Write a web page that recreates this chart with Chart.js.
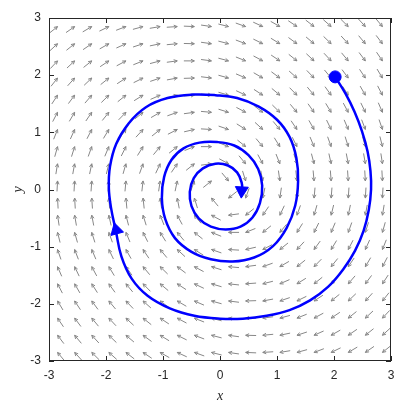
<!DOCTYPE html>
<html>
<head>
<meta charset="utf-8">
<script src="https://cdn.jsdelivr.net/npm/chart.js@4.4.1/dist/chart.umd.min.js"></script>
<style>
    html, body {margin: 0; padding: 0; background: #fff;}
</style>
</head>
<body>
<canvas id="chart1" width="416" height="412"></canvas>
<script>
//--------------------------------------DATOS
var axisTicks = [-3, -2, -1, 0, 1, 2, 3];

// puntas de las flechas del campo (rejilla)
var fieldGrid = [-2.85, -2.55, -2.25, -1.95, -1.65, -1.35, -1.05, -0.75, -0.45, -0.15,
    0.15, 0.45, 0.75, 1.05, 1.35, 1.65, 1.95, 2.25, 2.55, 2.85];

// sistema x' = a*x + b*y , y' = c*x + d*y
var fieldRowX = [0, 1];
var fieldRowY = [-1, -0.2];

// trayectoria
var pathX = [2.02, 2.20, 2.36, 2.49, 2.59, 2.64, 2.65, 2.61, 2.52, 2.37, 2.16, 1.90, 1.58, 1.22, 0.82, 0.40,
    0.00, -0.45, -0.88, -1.27, -1.55, -1.73, -1.83, -1.91, -1.95,
    -1.93, -1.82, -1.60, -1.30, -0.92, -0.48, -0.08, 0.30, 0.68, 1.00, 1.22, 1.34, 1.37,
    1.32, 1.17, 0.93, 0.60, 0.22, -0.16, -0.50, -0.79, -0.96, -1.02,
    -0.98, -0.85, -0.64, -0.36, -0.05, 0.25, 0.50, 0.67, 0.74,
    0.70, 0.57, 0.36, 0.10, -0.16, -0.37, -0.50, -0.53,
    -0.46, -0.30, -0.08, 0.14, 0.30, 0.38, 0.39];
var pathY = [1.97, 1.68, 1.36, 1.02, 0.66, 0.32, 0.00, -0.36, -0.72, -1.07, -1.40, -1.70, -1.94, -2.11, -2.21, -2.26,
    -2.26, -2.21, -2.08, -1.86, -1.56, -1.17, -0.71, -0.33, 0.02,
    0.40, 0.80, 1.16, 1.44, 1.60, 1.66, 1.65, 1.60, 1.45, 1.22, 0.92, 0.55, 0.15,
    -0.28, -0.67, -0.99, -1.19, -1.26, -1.22, -1.09, -0.85, -0.52, -0.15,
    0.22, 0.52, 0.72, 0.82, 0.83, 0.77, 0.60, 0.36, 0.07,
    -0.24, -0.49, -0.65, -0.70, -0.65, -0.51, -0.29, -0.04,
    0.20, 0.37, 0.45, 0.42, 0.30, 0.12, -0.02];

var startX = [2.02];
var startY = [1.97];

var headX = [-1.82, 0.38];
var headY = [-0.71, -0.02];
var headAngle = [-15, 183];

function puntos(xs, ys) {
    var arr = [];
    for (var i = 0; i < xs.length; i++) {
        arr.push({x: xs[i], y: ys[i]});
    }
    return arr;
}

//--------------------------------------CAMPO Y MARCO
var campoFlechas = {
    id: 'campoFlechas',
    beforeDatasetsDraw: function (chart) {
        var ctx = chart.ctx;
        var sx = chart.scales.x;
        var sy = chart.scales.y;
        var largo = 10.5;
        var punta = 3.8;
        ctx.save();
        ctx.strokeStyle = 'rgb(135,135,135)';
        ctx.lineWidth = 1;
        for (var i = 0; i < fieldGrid.length; i++) {
            for (var j = 0; j < fieldGrid.length; j++) {
                var gx = fieldGrid[i];
                var gy = fieldGrid[j];
                var u = fieldRowX[0] * gx + fieldRowX[1] * gy;
                var v = fieldRowY[0] * gx + fieldRowY[1] * gy;
                var px = sx.getPixelForValue(gx);
                var py = sy.getPixelForValue(gy);
                var ang = Math.atan2(-v, u);
                var tx = px - largo * Math.cos(ang);
                var ty = py - largo * Math.sin(ang);
                ctx.beginPath();
                ctx.moveTo(tx, ty);
                ctx.lineTo(px, py);
                ctx.moveTo(px - punta * Math.cos(ang - 0.45), py - punta * Math.sin(ang - 0.45));
                ctx.lineTo(px, py);
                ctx.lineTo(px - punta * Math.cos(ang + 0.45), py - punta * Math.sin(ang + 0.45));
                ctx.stroke();
            }
        }
        ctx.restore();
    },
    afterDraw: function (chart) {
        var ctx = chart.ctx;
        var a = chart.chartArea;
        var sx = chart.scales.x;
        var sy = chart.scales.y;
        var tl = 5;
        ctx.save();
        ctx.strokeStyle = '#262626';
        ctx.lineWidth = 1;
        ctx.strokeRect(a.left + 0.5, a.top + 0.5, a.right - a.left - 1, a.bottom - a.top - 1);
        ctx.beginPath();
        for (var i = 0; i < axisTicks.length; i++) {
            var px = Math.round(sx.getPixelForValue(axisTicks[i])) + 0.5;
            ctx.moveTo(px, a.bottom);
            ctx.lineTo(px, a.bottom - tl);
            ctx.moveTo(px, a.top);
            ctx.lineTo(px, a.top + tl);
            var py = Math.round(sy.getPixelForValue(axisTicks[i])) + 0.5;
            ctx.moveTo(a.left, py);
            ctx.lineTo(a.left + tl, py);
            ctx.moveTo(a.right, py);
            ctx.lineTo(a.right - tl, py);
        }
        ctx.stroke();
        ctx.restore();
    }
};

//--------------------------------------GRAFICA
var fuenteTicks = {family: 'Liberation Sans, Arial, sans-serif', size: 12};
var fuenteTitulo = {family: 'Liberation Serif, Times New Roman, serif', size: 14, style: 'italic'};

var grafica = new Chart(document.getElementById('chart1'), {
    type: 'scatter',
    data: {
        datasets: [{
            label: 'flechas',
            data: puntos(headX, headY),
            pointStyle: 'triangle',
            pointRadius: 7.5,
            rotation: headAngle,
            backgroundColor: '#0000ff',
            borderColor: '#0000ff',
            borderWidth: 1,
            showLine: false
        }, {
            label: 'inicio',
            data: puntos(startX, startY),
            pointStyle: 'circle',
            pointRadius: 6,
            backgroundColor: '#0000ff',
            borderColor: '#0000ff',
            showLine: false
        }, {
            label: 'trayectoria',
            data: puntos(pathX, pathY),
            showLine: true,
            pointRadius: 0,
            borderColor: '#0000ff',
            borderWidth: 2.5,
            tension: 0.4,
            fill: false
        }]
    },
    options: {
        responsive: false,
        animation: false,
        layout: {padding: {top: 18, right: 25, left: 0, bottom: 0}},
        plugins: {
            legend: {display: false},
            tooltip: {enabled: false}
        },
        scales: {
            x: {
                type: 'linear',
                min: -3,
                max: 3,
                afterBuildTicks: function (s) {
                    s.ticks = axisTicks.map(function (v) { return {value: v}; });
                },
                afterFit: function (s) { s.height = 51; },
                grid: {display: false, drawTicks: false},
                border: {display: false},
                ticks: {font: fuenteTicks, color: '#262626', padding: 7, maxRotation: 0},
                title: {display: true, text: 'x', font: fuenteTitulo, color: '#262626', padding: {top: 0, bottom: 7}}
            },
            y: {
                type: 'linear',
                min: -3,
                max: 3,
                afterBuildTicks: function (s) {
                    s.ticks = axisTicks.map(function (v) { return {value: v}; });
                },
                afterFit: function (s) { s.width = 49; },
                grid: {display: false, drawTicks: false},
                border: {display: false},
                ticks: {font: fuenteTicks, color: '#262626', padding: 8},
                title: {display: true, text: 'y', font: fuenteTitulo, color: '#262626', padding: {top: 10, bottom: 0}}
            }
        }
    },
    plugins: [campoFlechas]
});
</script>
</body>
</html>
